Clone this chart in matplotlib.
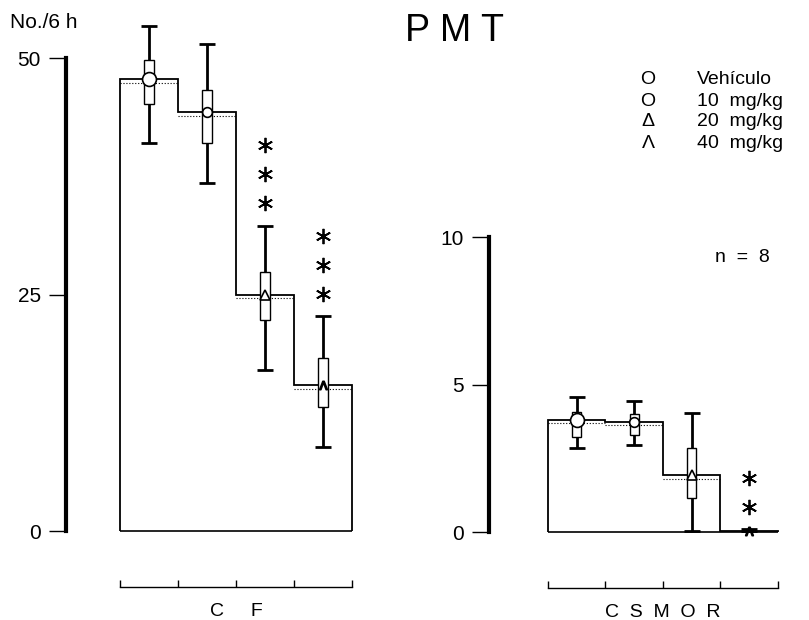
import numpy as np
import matplotlib
matplotlib.use("Agg")
import matplotlib.pyplot as plt
from matplotlib.transforms import offset_copy

plt.rcParams['font.family'] = ['Liberation Sans', 'DejaVu Sans']

# left panel: C F, counts per 6 h for the four doses
cf_mean = [47.8, 44.3, 25.0, 15.4]
cf_err_hi = [53.4, 51.5, 32.3, 22.7]
cf_err_lo = [41.0, 36.8, 17.0, 8.9]
cf_box_hi = [49.8, 46.7, 27.4, 18.3]
cf_box_lo = [45.2, 41.0, 22.3, 13.1]
cf_stars = [0, 0, 3, 3]

# right panel: C S M O R
cs_mean = [3.8, 3.73, 1.93, 0.05]
cs_err_hi = [4.58, 4.44, 4.03, 0.1]
cs_err_lo = [2.85, 2.95, 0.05, 0.0]
cs_box_hi = [4.07, 4.0, 2.85, 0.08]
cs_box_lo = [3.22, 3.3, 1.15, 0.02]
cs_stars = [0, 0, 0, 2]

doses = ['Vehículo', '10  mg/kg', '20  mg/kg', '40  mg/kg']
legend_syms = ['O', 'O', 'Δ', 'Λ']
markers = ['o', 'o', '^', '$\\Lambda$']
msizes = [10, 7, 7, 6]

fig = plt.figure(figsize=(8.09, 6.2), dpi=100)


def panel(ax, mean, lo, hi, blo, bhi, stars, yticks, label):
    mean = np.array(mean)
    x = np.arange(len(mean))
    edges = np.arange(len(mean) + 1) - 0.5
    ax.stairs(mean, edges, baseline=0, color='black', lw=1.3, clip_on=False)
    ax.hlines(0, edges[0], edges[-1], colors='black', lw=1.2, clip_on=False)
    # second dotted line under each bar top, like the scan
    down = offset_copy(ax.transData, fig=fig, y=-2.5, units='points')
    ax.hlines(mean, edges[:-1], edges[1:], colors='black', lw=0.8,
              linestyles=':', transform=down)
    yerr = [mean - np.array(lo), np.array(hi) - mean]
    ax.errorbar(x, mean, yerr=yerr, fmt='none', ecolor='black',
                elinewidth=2, capsize=6, capthick=2, zorder=2)
    ax.bar(x, np.array(bhi) - np.array(blo), bottom=blo, width=0.16,
           color='white', edgecolor='black', lw=1, zorder=3)
    for i in range(len(mean)):
        ax.plot(x[i], mean[i], marker=markers[i], ms=msizes[i], mfc='white',
                mec='black', mew=1.2, zorder=4, clip_on=False)
        for k in range(stars[i]):
            tr = offset_copy(ax.transData, fig=fig, y=16 + 21 * k, units='points')
            ax.plot(x[i], hi[i], marker=(6, 2, 0), ms=11, color='black',
                    mew=1.3, transform=tr, clip_on=False)

    for s in ['top', 'right']:
        ax.spines[s].set_visible(False)
    ax.spines['left'].set_linewidth(3)
    ax.spines['left'].set_bounds(yticks[0], yticks[-1])
    ax.spines['bottom'].set_position(('outward', 40))
    ax.spines['bottom'].set_bounds(edges[0], edges[-1])
    ax.spines['bottom'].set_linewidth(1)
    ax.set_xticks(edges)
    ax.set_xticklabels([])
    ax.tick_params(axis='x', direction='in', length=5, width=1)
    ax.set_yticks(yticks)
    ax.tick_params(axis='y', direction='out', length=12, width=1,
                   labelsize=15, pad=6)
    ax.annotate(label, xy=(1.5, 0), xytext=(0, -58), textcoords='offset points',
                ha='center', va='center', fontsize=14, annotation_clip=False)
    ax.set_facecolor('none')


ax1 = fig.add_axes([0.0816, 0.1435, 0.3634, 0.8387])
ax1.set_xlim(-1.43, 3.64)
ax1.set_ylim(0, 55)
panel(ax1, cf_mean, cf_err_lo, cf_err_hi, cf_box_lo, cf_box_hi, cf_stars,
      [0, 25, 50], 'C     F')

ax2 = fig.add_axes([0.6044, 0.1419, 0.382, 0.5139])
ax2.set_xlim(-1.526, 3.85)
ax2.set_ylim(0, 10.8)
panel(ax2, cs_mean, cs_err_lo, cs_err_hi, cs_box_lo, cs_box_hi, cs_stars,
      [0, 5, 10], 'C  S  M  O  R')

fig.text(454 / 809, 1 - 31 / 620, 'P M T', fontsize=27, ha='center', va='center')
fig.text(10 / 809, 1 - 23 / 620, 'No./6 h', fontsize=15, ha='left', va='center')

for i, (sym, lab) in enumerate(zip(legend_syms, doses)):
    yy = 1 - (80 + 21 * i) / 620
    fig.text(648 / 809, yy, sym, fontsize=14, ha='center', va='center')
    fig.text(697 / 809, yy, lab, fontsize=14, ha='left', va='center')

fig.text(715 / 809, 1 - 258 / 620, 'n  =  8', fontsize=14, ha='left', va='center')

fig.savefig('out.png', dpi=100)
